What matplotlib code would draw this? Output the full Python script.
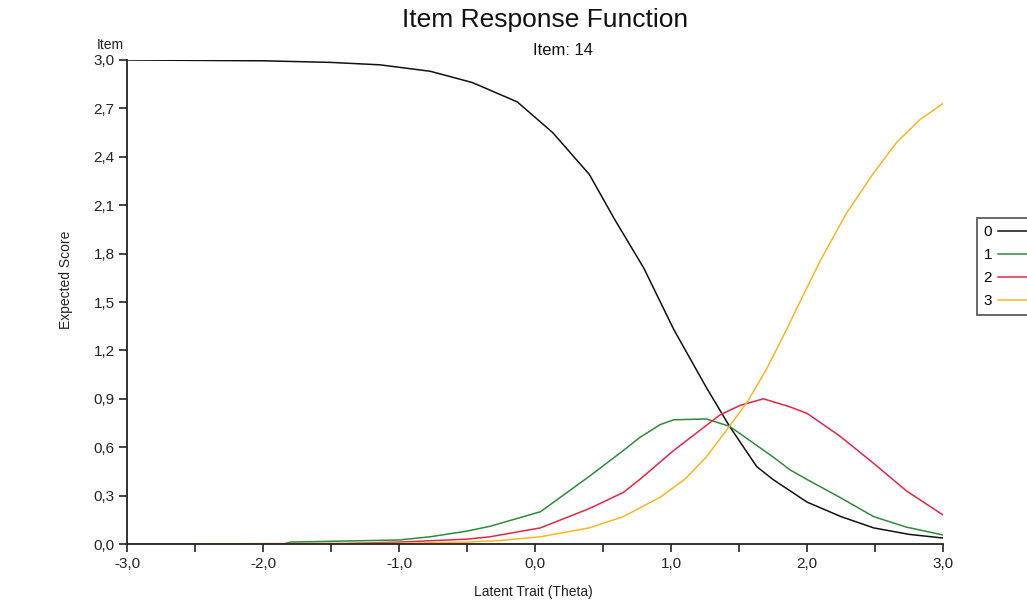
import matplotlib
matplotlib.use("Agg")
from matplotlib import pyplot as plt
from matplotlib.ticker import MultipleLocator, FuncFormatter

plt.rcParams['font.family'] = ['Liberation Sans', 'DejaVu Sans']

# expected score curves, one theta list per category
theta0 = [-3.0, -2.0, -1.5, -1.14, -0.77, -0.46, -0.13, 0.13, 0.40, 0.58, 0.80,
          1.02, 1.26, 1.43, 1.63, 1.75, 2.0, 2.25, 2.49, 2.75, 3.0]
cat0 = [3.0, 2.995, 2.985, 2.97, 2.93, 2.86, 2.74, 2.55, 2.29, 2.02, 1.71,
        1.33, 0.97, 0.73, 0.48, 0.40, 0.26, 0.17, 0.10, 0.06, 0.037]

theta1 = [-3.0, -1.85, -1.8, -1.0, -0.77, -0.5, -0.33, 0.04, 0.40, 0.65, 0.77,
          0.92, 1.02, 1.26, 1.43, 1.75, 1.875, 2.0, 2.24, 2.49, 2.73, 3.0]
cat1 = [0.0, 0.0, 0.012, 0.025, 0.045, 0.08, 0.11, 0.20, 0.42, 0.58, 0.66,
        0.74, 0.77, 0.775, 0.73, 0.54, 0.46, 0.40, 0.29, 0.17, 0.105, 0.056]

theta2 = [-3.0, -1.4, -1.0, -0.5, -0.33, 0.04, 0.40, 0.65, 0.77, 1.02, 1.36,
          1.51, 1.68, 1.875, 2.0, 2.24, 2.49, 2.73, 3.0]
cat2 = [0.0, 0.003, 0.012, 0.03, 0.045, 0.10, 0.22, 0.32, 0.40, 0.58, 0.80,
        0.86, 0.90, 0.85, 0.81, 0.67, 0.50, 0.33, 0.18]

theta3 = [-3.0, -1.0, -0.5, -0.25, 0.04, 0.40, 0.65, 0.92, 1.10, 1.26, 1.43,
          1.56, 1.70, 1.85, 1.93, 2.10, 2.29, 2.49, 2.66, 2.83, 3.0]
cat3 = [0.0, 0.004, 0.012, 0.022, 0.045, 0.10, 0.17, 0.29, 0.40, 0.54, 0.73,
        0.88, 1.08, 1.33, 1.47, 1.76, 2.05, 2.30, 2.49, 2.63, 2.73]

labels = ['0', '1', '2', '3']
colors = ['#111111', '#2f8a3a', '#e02845', '#f7b52a']

fig = plt.figure(figsize=(10.27, 6.09), dpi=100)
ax = fig.add_axes([0.1237, 0.1067, 0.7945, 0.7948])

series = [(theta0, cat0), (theta1, cat1), (theta2, cat2), (theta3, cat3)]
for (xs, ys), lab, col in zip(series, labels, colors):
    ax.plot(xs, ys, color=col, lw=1.1, label=lab)

ax.set_xlim(-3, 3)
ax.set_ylim(0, 3)
ax.xaxis.set_major_locator(MultipleLocator(1.0))
ax.xaxis.set_minor_locator(MultipleLocator(0.5))
ax.yaxis.set_major_locator(MultipleLocator(0.3))
comma = FuncFormatter(lambda v, p: f"{v:.1f}".replace('.', ','))
ax.xaxis.set_major_formatter(comma)
ax.yaxis.set_major_formatter(comma)
ax.tick_params(axis='both', which='both', length=6, width=1.2, labelsize=11,
               colors='#222222', pad=3)
ax.spines['top'].set_visible(False)
ax.spines['right'].set_visible(False)
for s in ('left', 'bottom'):
    ax.spines[s].set_linewidth(1.3)
    ax.spines[s].set_color('#222222')

fig.text(0.531, 0.967, 'Item Response Function', ha='center', va='center',
         fontsize=19, color='#111111')
fig.text(0.548, 0.917, 'Item: 14', ha='center', va='center', fontsize=12,
         color='#111111')
fig.text(0.107, 0.926, 'Item', ha='center', va='center', fontsize=10,
         color='#222222')
fig.text(0.064, 0.54, 'Expected Score', ha='center', va='center',
         rotation=90, fontsize=10, color='#222222')
fig.text(0.519, 0.028, 'Latent Trait (Theta)', ha='center', va='center',
         fontsize=10, color='#222222')

leg = fig.legend(loc='upper left', bbox_to_anchor=(0.951, 0.642),
                 markerfirst=False, handlelength=2.6, handletextpad=0.4,
                 fontsize=11, frameon=True, fancybox=False,
                 borderpad=0.45, labelspacing=0.6, borderaxespad=0)
leg.get_frame().set_edgecolor('#222222')
leg.get_frame().set_linewidth(1.2)

fig.savefig('out.png', dpi=100)
